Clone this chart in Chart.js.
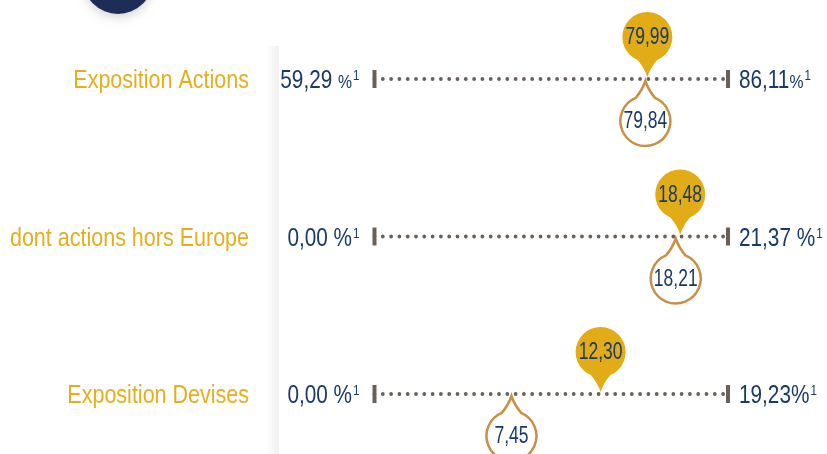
<!DOCTYPE html>
<html>
<head>
<meta charset="utf-8">
<script src="https://cdn.jsdelivr.net/npm/chart.js@4/dist/chart.umd.min.js"></script>
<style>
  html, body { margin: 0; padding: 0; background: #fff; }
  #wrap { position: relative; width: 827px; height: 454px; }
</style>
</head>
<body>
<div id="wrap"><canvas id="expoChart" width="827" height="454"></canvas></div>
<script>
/* Expositions : fourchette min / max, valeur du fonds (bulle pleine) et de l'indice (bulle contour). */

const rowLabels   = ['Exposition Actions', 'dont actions hors Europe', 'Exposition Devises'];
const rangeMin    = [59.29, 0.00, 0.00];
const rangeMax    = [86.11, 21.37, 19.23];
const fundValues  = [79.99, 18.48, 12.30];
const benchValues = [79.84, 18.21, 7.45];
const minSuffix   = [' %', ' %', ' %'];
const maxSuffix   = ['%', ' %', '%'];
const footnote    = '1';

const NAVY = '#173a68';
const GOLD = '#e2ac17';
const GOLD_TXT = '#e4ae1e';
const COPPER = '#c98f45';
const GREY = '#6a6058';
const FONT = '"Liberation Sans", Arial, sans-serif';
const SQUEEZE = 0.83; // pas d'Arial Narrow : on condense à la main

const fmt = v => v.toFixed(2).replace('.', ',');
const norm = (i, v) => (v - rangeMin[i]) / (rangeMax[i] - rangeMin[i]);
const rows = rowLabels.map((_, i) => i);

function textW(ctx, font, s) {
  ctx.font = font;
  return ctx.measureText(s).width * SQUEEZE;
}
function fillN(ctx, font, s, x, y, align, sq) {
  ctx.save();
  ctx.font = font;
  ctx.textAlign = align || 'left';
  ctx.translate(x, y);
  ctx.scale(sq || SQUEEZE, 1);
  ctx.fillText(s, 0, 0);
  ctx.restore();
}

// texte valeur + % + exposant
function drawValue(ctx, x, y, num, suffix, align, smallPct) {
  const big = '25px ' + FONT, pctF = (smallPct ? '19px ' : '25px ') + FONT, supF = '14px ' + FONT;
  const wNum = textW(ctx, big, num);
  const wSp = suffix.startsWith(' ') ? textW(ctx, big, ' ') : 0;
  const wPct = textW(ctx, pctF, '%');
  const wSup = textW(ctx, supF, footnote);
  const total = wNum + wSp + wPct + 1 + wSup;
  let cx = align === 'right' ? x - total : x;
  const base = y + 9;
  ctx.fillStyle = NAVY;
  ctx.textBaseline = 'alphabetic';
  fillN(ctx, big, num, cx, base); cx += wNum + wSp;
  fillN(ctx, pctF, '%', cx, base); cx += wPct + 1;
  fillN(ctx, supF, footnote, cx, base - 8);
}

function bubble(ctx, tipX, tipY, dir, filled, text) {
  const r = 25, gap = 15, a = 0.4;
  const cx = tipX, cy = tipY + dir * (r + gap);
  const base = dir < 0 ? Math.PI / 2 : -Math.PI / 2;
  ctx.beginPath();
  ctx.arc(cx, cy, r, base + a, base - a + Math.PI * 2);
  const ex = cx + Math.cos(base - a) * r;
  const sx = cx + Math.cos(base + a) * r, sy = cy + Math.sin(base + a) * r;
  const my = cy - dir * (r + 6);
  ctx.quadraticCurveTo(cx + (ex > cx ? 3 : -3), my, tipX, tipY);
  ctx.quadraticCurveTo(cx + (sx > cx ? 3 : -3), my, sx, sy);
  ctx.closePath();
  if (filled) {
    ctx.fillStyle = GOLD; ctx.fill();
  } else {
    ctx.fillStyle = '#fff'; ctx.fill();
    ctx.lineWidth = 2.5; ctx.strokeStyle = COPPER; ctx.stroke();
  }
  ctx.fillStyle = NAVY;
  ctx.textBaseline = 'middle';
  fillN(ctx, '23px ' + FONT, text, cx, cy + 1, 'center', 0.76);
}

const decorPlugin = {
  id: 'decor',
  beforeDatasetsDraw(chart) {
    const ctx = chart.ctx;
    ctx.save();
    // ombre verticale du panneau
    const g = ctx.createLinearGradient(266, 0, 279, 0);
    g.addColorStop(0, 'rgba(0,0,0,0)');
    g.addColorStop(1, 'rgba(0,0,0,0.06)');
    ctx.fillStyle = g;
    ctx.fillRect(266, 46, 13, 408);
    // pastille bleu marine
    ctx.shadowColor = 'rgba(0,0,0,0.15)';
    ctx.shadowBlur = 10;
    ctx.shadowOffsetY = 4;
    ctx.fillStyle = '#1d2d55';
    ctx.beginPath();
    ctx.arc(118, -21, 35, 0, Math.PI * 2);
    ctx.fill();
    ctx.restore();
  },
  afterDatasetsDraw(chart) {
    const ctx = chart.ctx;
    const xs = chart.scales.x, ys = chart.scales.y;
    const fundMeta = chart.getDatasetMeta(2), benchMeta = chart.getDatasetMeta(3);
    ctx.save();
    rows.forEach(i => {
      const y = ys.getPixelForValue(i);
      ctx.fillStyle = GOLD_TXT;
      ctx.textBaseline = 'alphabetic';
      fillN(ctx, '25px ' + FONT, rowLabels[i], 249, y + 9, 'right', 0.86);
      drawValue(ctx, xs.getPixelForValue(0) - 15, y, fmt(rangeMin[i]), minSuffix[i], 'right', i === 0);
      drawValue(ctx, xs.getPixelForValue(1) + 11, y, fmt(rangeMax[i]), maxSuffix[i], 'left', i === 0);
      const b = benchMeta.data[i], f = fundMeta.data[i];
      bubble(ctx, b.x, b.y + 2, 1, false, fmt(benchValues[i]));
      bubble(ctx, f.x, f.y - 2, -1, true, fmt(fundValues[i]));
    });
    ctx.restore();
  }
};

const lineSets = rows.map(i => ({
  type: 'line',
  data: [{ x: 0, y: i }, { x: 1, y: i }],
  borderColor: GREY, borderWidth: 3.8, borderDash: [0, 8.3], borderCapStyle: 'round',
  pointRadius: 0, clip: false, order: 5
}));

new Chart(document.getElementById('expoChart'), {
  type: 'scatter',
  data: {
    datasets: [
      { // bornes
        data: rows.flatMap(i => [{ x: 0, y: i }, { x: 1, y: i }]),
        pointStyle: 'line', rotation: 90, pointRadius: 9, borderWidth: 4,
        borderColor: GREY, backgroundColor: GREY, clip: false, order: 1
      },
      lineSets[0],
      { // fonds
        data: rows.map(i => ({ x: norm(i, fundValues[i]), y: i })),
        pointRadius: 0, clip: false
      },
      { // indice
        data: rows.map(i => ({ x: norm(i, benchValues[i]), y: i })),
        pointRadius: 0, clip: false
      },
      lineSets[1], lineSets[2]
    ]
  },
  options: {
    responsive: false,
    animation: false,
    events: [],
    layout: { padding: { left: 374.5, right: 99, top: 79, bottom: 60 } },
    scales: {
      x: { type: 'linear', min: 0, max: 1, display: false },
      y: { type: 'linear', min: 0, max: 2, reverse: true, display: false }
    },
    plugins: { legend: { display: false }, tooltip: { enabled: false } }
  },
  plugins: [decorPlugin]
});
</script>
</body>
</html>
